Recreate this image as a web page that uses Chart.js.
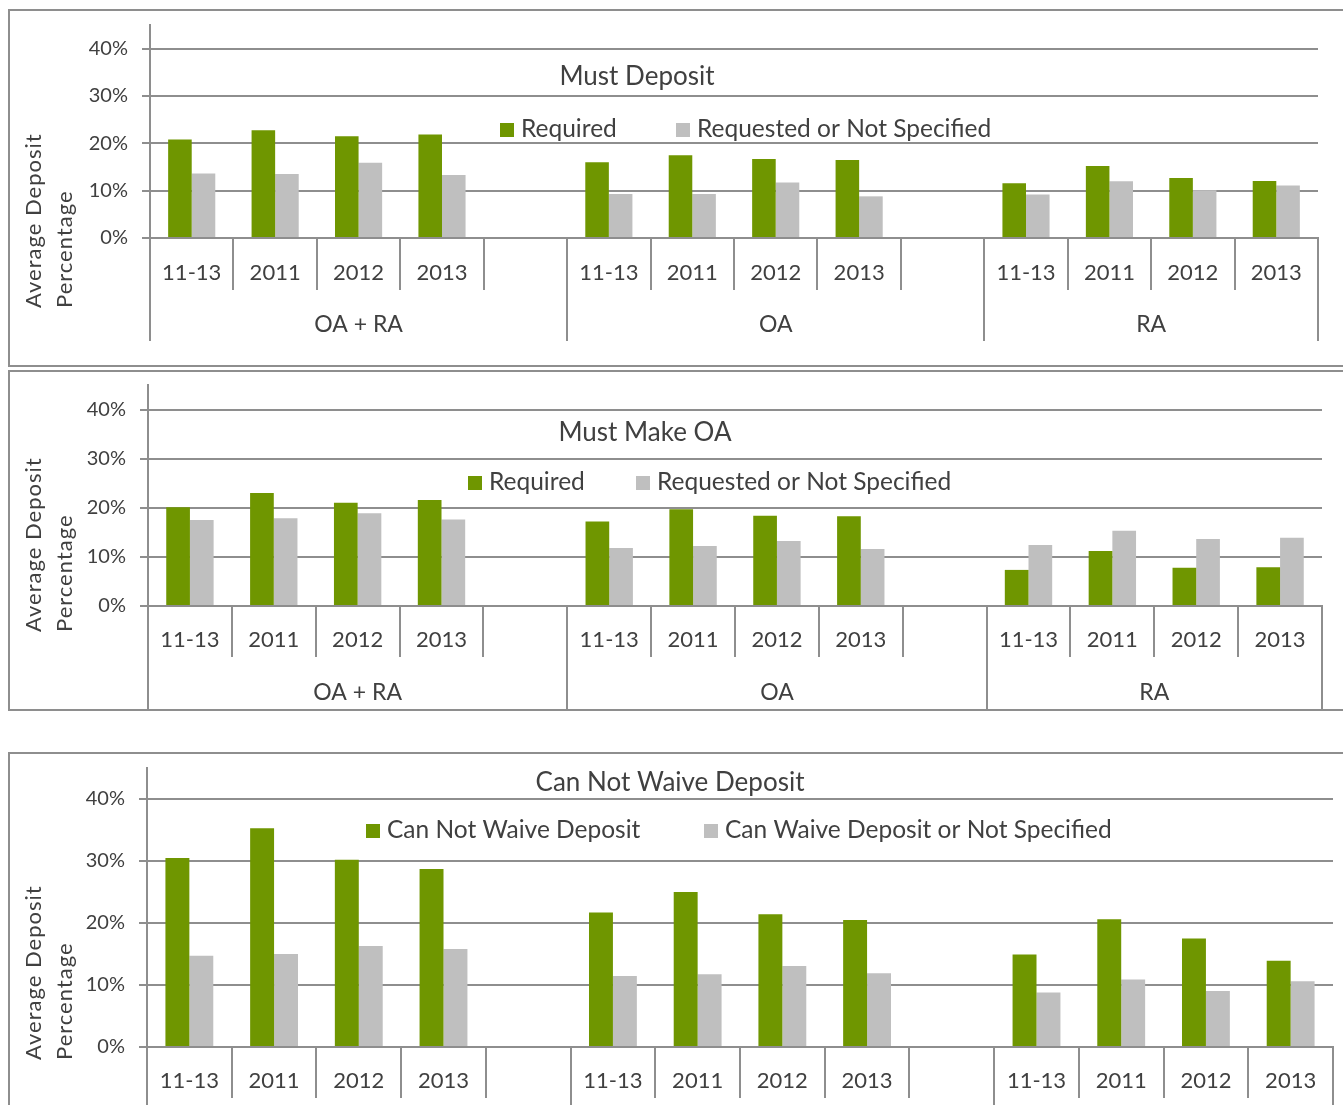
<!DOCTYPE html>
<html><head><meta charset="utf-8">
<script src="https://cdn.jsdelivr.net/npm/chart.js@4.4.1/dist/chart.umd.min.js"></script>
<style>
html,body{margin:0;padding:0;background:#fff;}
body{width:1343px;height:1105px;overflow:hidden;position:relative;}
.box{position:absolute;left:8px;width:1400px;border:2px solid #8e8e8e;box-sizing:border-box;}
canvas{position:absolute;left:0;}
</style></head><body>
<div class="box" style="top:9px;height:358px"></div>
<div class="box" style="top:370px;height:341px"></div>
<div class="box" style="top:752px;height:420px"></div>
<canvas id="c1" width="1343" height="366" style="top:0px"></canvas>
<canvas id="c2" width="1343" height="346" style="top:366px"></canvas>
<canvas id="c3" width="1343" height="393" style="top:712px"></canvas>
<script>
// ---- data ----
const yearLabels = ['11-13','2011','2012','2013','','11-13','2011','2012','2013','','11-13','2011','2012','2013'];
const groupLabels = ['OA + RA','OA','RA'];
const groupSpans = [5,5,4];
const yTickValues = [0,10,20,30,40];
const yAxisTitle = ['Average Deposit','Percentage'];

const mustDepositTitle = 'Must Deposit';
const mustDepositNames = ['Required','Requested or Not Specified'];
const mustDepositRequired  = [20.8,22.75,21.5,21.85,null,16.0,17.5,16.7,16.5,null,11.55,15.2,12.7,12.05];
const mustDepositRequested = [13.65,13.5,15.9,13.3,null,9.3,9.3,11.7,8.8,null,9.2,12.0,10.1,11.1];

const mustMakeOATitle = 'Must Make OA';
const mustMakeOANames = ['Required','Requested or Not Specified'];
const mustMakeOARequired  = [20.1,23.0,21.0,21.6,null,17.2,19.7,18.4,18.3,null,7.35,11.2,7.8,7.9];
const mustMakeOARequested = [17.5,17.85,18.9,17.6,null,11.8,12.2,13.25,11.6,null,12.4,15.3,13.65,13.9];

const waiveTitle = 'Can Not Waive Deposit';
const waiveNames = ['Can Not Waive Deposit','Can Waive Deposit or Not Specified'];
const canNotWaive = [30.5,35.3,30.2,28.7,null,21.7,25.0,21.4,20.5,null,14.9,20.6,17.5,13.9];
const canWaive    = [14.7,15.0,16.3,15.8,null,11.45,11.75,13.05,11.9,null,8.8,10.9,9.05,10.6];

// ---- style ----
const GREEN='#6f9600', GREY='#bfbfbf', LINE='#8e8e8e', TXT='#404040', FONT='Lato';

const decor = {
  id:'decor',
  afterDraw(chart, args, o){
    const ctx = chart.ctx, ca = chart.chartArea, xs = chart.scales.x;
    const half = (xs.getPixelForValue(1) - xs.getPixelForValue(0)) / 2;
    ctx.save();
    ctx.strokeStyle = LINE; ctx.lineWidth = 2;
    const edges = [0]; let acc = 0;
    groupSpans.forEach(s => { acc += s; edges.push(acc); });
    edges.forEach(e => {
      const px = Math.round(xs.getPixelForValue(e) - half);
      ctx.beginPath(); ctx.moveTo(px, ca.bottom); ctx.lineTo(px, o.groupBottom); ctx.stroke();
    });
    ctx.fillStyle = TXT; ctx.textBaseline = 'alphabetic'; ctx.textAlign = 'center';
    ctx.font = '23px ' + FONT;
    groupLabels.forEach((g, i) => {
      const a = xs.getPixelForValue(edges[i]) - half, b = xs.getPixelForValue(edges[i+1]) - half;
      ctx.fillText(g, (a + b) / 2, o.groupLabelY);
    });
    ctx.font = '26px ' + FONT;
    ctx.fillText(o.title, o.titleX, o.titleY);
    ctx.font = '24.5px ' + FONT; ctx.textAlign = 'left';
    chart.data.datasets.forEach((ds, i) => {
      const bx = o.legendX[i];
      ctx.fillStyle = ds.backgroundColor;
      ctx.fillRect(bx, o.legendY - 14, 14, 14);
      ctx.fillStyle = TXT;
      ctx.fillText(ds.label, bx + 21, o.legendY);
    });
    ctx.font = '22px ' + FONT;
    ctx.letterSpacing = '1px';
    yAxisTitle.forEach((t, i) => {
      ctx.save();
      ctx.translate(o.yTitleX[i], o.yTitleBottom);
      ctx.rotate(-Math.PI / 2);
      ctx.fillText(t, 0, 0);
      ctx.restore();
    });
    ctx.restore();
  }
};

function makePanel(p){
  const H = p.canvasHeight;
  return new Chart(document.getElementById(p.id), {
    type: 'bar',
    data: {
      labels: yearLabels,
      datasets: [
        {label: p.names[0], data: p.a, backgroundColor: GREEN},
        {label: p.names[1], data: p.b, backgroundColor: GREY}
      ]
    },
    options: {
      responsive: false, animation: false, devicePixelRatio: 1,
      layout: {padding: {left: 0, right: 1343 - p.right, top: p.top, bottom: 0}},
      datasets: {bar: {categoryPercentage: 0.565, barPercentage: 1}},
      plugins: {
        legend: {display: false}, tooltip: {enabled: false}, title: {display: false},
        decor: p.decor
      },
      scales: {
        x: {
          grid: {offset: true, drawOnChartArea: false, drawTicks: true, tickLength: p.tick, color: LINE, lineWidth: 2},
          border: {display: true, color: LINE, width: 2},
          ticks: {font: {family: FONT, size: 22}, color: TXT, padding: -30, maxRotation: 0, autoSkip: false},
          afterFit: s => { s.height = H - p.bottom; s.paddingLeft = 0; s.paddingRight = 0; }
        },
        y: {
          min: 0, max: 45, bounds: 'data',
          ticks: {stepSize: 10, includeBounds: false, callback: v => v + '%', font: {family: FONT, size: 20}, color: TXT, padding: 14},
          grid: {color: LINE, lineWidth: 2, tickLength: 8, drawTicks: true},
          border: {display: true, color: LINE, width: 2},
          afterBuildTicks: s => { s.ticks = yTickValues.map(v => ({value: v})); },
          afterFit: s => { s.width = p.left; s.paddingTop = 0; s.paddingBottom = 0; }
        }
      }
    },
    plugins: [decor]
  });
}

makePanel({id:'c1', canvasHeight:366, left:150, right:1318, top:25, bottom:238, tick:52,
  names: mustDepositNames, a: mustDepositRequired, b: mustDepositRequested,
  decor: {groupBottom:341, groupLabelY:332, title:mustDepositTitle, titleX:637, titleY:85,
          legendX:[500,676], legendY:137, yTitleX:[41,72], yTitleBottom:308}});

makePanel({id:'c2', canvasHeight:346, left:148, right:1322, top:19, bottom:240, tick:51,
  names: mustMakeOANames, a: mustMakeOARequired, b: mustMakeOARequested,
  decor: {groupBottom:344, groupLabelY:334, title:mustMakeOATitle, titleX:645, titleY:75,
          legendX:[468,636], legendY:124, yTitleX:[41,72], yTitleBottom:266}});

makePanel({id:'c3', canvasHeight:393, left:147, right:1333, top:56, bottom:335, tick:51,
  names: waiveNames, a: canNotWaive, b: canWaive,
  decor: {groupBottom:400, groupLabelY:429, title:waiveTitle, titleX:670, titleY:79,
          legendX:[366,704], legendY:126, yTitleX:[41,72], yTitleBottom:348}});
</script>
</body></html>
